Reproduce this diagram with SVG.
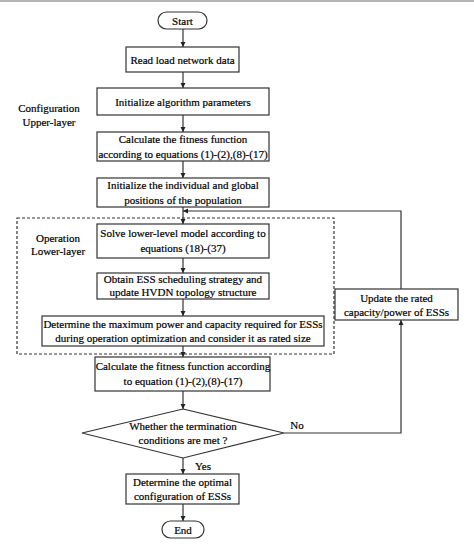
<svg xmlns="http://www.w3.org/2000/svg" width="474" height="556" viewBox="0 0 474 556">
<defs>
<marker id="ah" markerWidth="6" markerHeight="6" refX="5" refY="3" orient="auto" markerUnits="userSpaceOnUse">
<path d="M0,0.5 L5,3 L0,5.5 Z" fill="#222"/>
</marker>
<style>
.box{fill:#fff;stroke:#333;stroke-width:1.2}
.t{font-family:"Liberation Serif","Times New Roman","DejaVu Serif",serif;font-size:11px;fill:#000;stroke:#000;stroke-width:0.2;text-anchor:middle}
.c{fill:none;stroke:#333;stroke-width:1.2}
.d{fill:none;stroke:#333;stroke-width:1.2;stroke-dasharray:3,2}
</style>
</defs>
<rect x="0" y="0" width="474" height="556" fill="#fff"/>
<rect x="0" y="0" width="474" height="2" fill="#b4b4b4"/>
<g id="lower-layer-region">
<rect class="d" x="17" y="218" width="317" height="136"/>
</g>
<g id="label-config">
<text class="t" x="49" y="112">Configuration</text>
<text class="t" x="49" y="126">Upper-layer</text>
</g>
<g id="label-operation">
<text class="t" x="58" y="242">Operation</text>
<text class="t" x="58" y="255">Lower-layer</text>
</g>
<g id="connectors">
<line class="c" x1="183" y1="29" x2="183" y2="47" marker-end="url(#ah)"/>
<line class="c" x1="183" y1="72" x2="183" y2="88" marker-end="url(#ah)"/>
<line class="c" x1="183" y1="115" x2="183" y2="132" marker-end="url(#ah)"/>
<line class="c" x1="183" y1="161" x2="183" y2="178" marker-end="url(#ah)"/>
<line class="c" x1="183" y1="207" x2="183" y2="224" marker-end="url(#ah)"/>
<line class="c" x1="183" y1="258" x2="183" y2="273" marker-end="url(#ah)"/>
<line class="c" x1="183" y1="299" x2="183" y2="316" marker-end="url(#ah)"/>
<line class="c" x1="183" y1="346" x2="183" y2="357" marker-end="url(#ah)"/>
<line class="c" x1="183" y1="391" x2="183" y2="409" marker-end="url(#ah)"/>
<line class="c" x1="183" y1="458" x2="183" y2="474" marker-end="url(#ah)"/>
<line class="c" x1="183" y1="504" x2="183" y2="521" marker-end="url(#ah)"/>
<polyline class="c" points="284,433 401,433 401,320" marker-end="url(#ah)"/>
<polyline class="c" points="401,289 401,211 183,211" marker-end="url(#ah)"/>
<text class="t" x="297" y="429">No</text>
<text class="t" x="203" y="470">Yes</text>
</g>
<g id="start">
<rect class="box" x="158" y="12" width="49" height="17" rx="8.5"/>
<text class="t" x="182.5" y="24.5">Start</text>
</g>
<g id="read-data">
<rect class="box" x="126" y="47" width="113" height="25"/>
<text class="t" x="182.5" y="63.5">Read load network data</text>
</g>
<g id="init-params">
<rect class="box" x="97" y="88" width="172" height="27"/>
<text class="t" x="183" y="105.5">Initialize algorithm parameters</text>
</g>
<g id="calc-fitness-1">
<rect class="box" x="97" y="132" width="172" height="29"/>
<text class="t" x="183" y="143">Calculate the fitness function</text>
<text class="t" x="183" y="158">according to equations (1)-(2),(8)-(17)</text>
</g>
<g id="init-positions">
<rect class="box" x="97" y="178" width="172" height="29"/>
<text class="t" x="183" y="189">Initialize the individual and global</text>
<text class="t" x="183" y="204">positions of the population</text>
</g>
<g id="solve-lower">
<rect class="box" x="97" y="224" width="172" height="34"/>
<text class="t" x="183" y="237">Solve lower-level model according to</text>
<text class="t" x="183" y="252">equations (18)-(37)</text>
</g>
<g id="obtain-ess">
<rect class="box" x="97" y="273" width="172" height="26"/>
<text class="t" x="183" y="283">Obtain ESS scheduling strategy and</text>
<text class="t" x="183" y="296">update HVDN topology structure</text>
</g>
<g id="determine-max">
<rect class="box" x="42" y="316" width="282" height="30"/>
<text class="t" x="183" y="328">Determine the maximum power and capacity required for ESSs</text>
<text class="t" x="183" y="342">during operation optimization and consider it as rated size</text>
</g>
<g id="calc-fitness-2">
<rect class="box" x="95" y="357" width="175" height="34"/>
<text class="t" x="183" y="370">Calculate the fitness function according</text>
<text class="t" x="183" y="385">to equation  (1)-(2),(8)-(17)</text>
</g>
<g id="termination">
<polygon class="box" points="183,409 284,433 183,458 82,433"/>
<text class="t" x="183" y="430">Whether the termination</text>
<text class="t" x="183" y="444">conditions are met ?</text>
</g>
<g id="update-rated">
<rect class="box" x="335" y="289" width="123" height="31"/>
<text class="t" x="396.5" y="302">Update the rated</text>
<text class="t" x="396.5" y="316">capacity/power of ESSs</text>
</g>
<g id="optimal-config">
<rect class="box" x="126" y="474" width="113" height="30"/>
<text class="t" x="182.5" y="486">Determine the optimal</text>
<text class="t" x="182.5" y="500">configuration of ESSs</text>
</g>
<g id="end">
<rect class="box" x="162" y="521" width="42" height="17" rx="8.5"/>
<text class="t" x="183" y="533.5">End</text>
</g>
</svg>
